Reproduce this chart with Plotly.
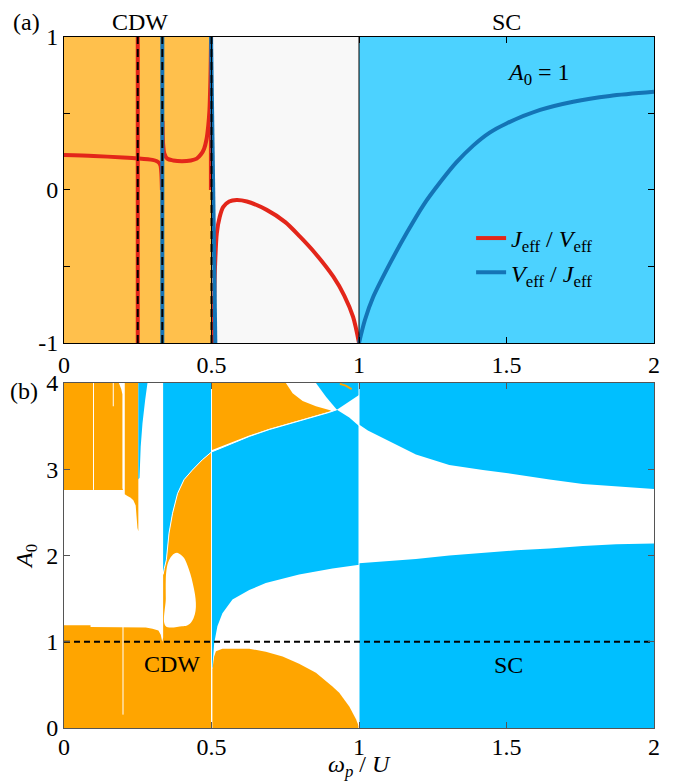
import plotly.graph_objects as go

FONT = "Liberation Serif, Times New Roman, serif"
BLACK = "black"
ORANGE = "#FFA500"
CYAN = "#00BFFF"

# ---------------- panel (a) data ----------------
shade_edges = [0.0, 0.5, 1.0, 2.0]
shade_colors = ["rgba(255,165,0,0.7)", "#f8f8f8", "rgba(0,191,255,0.7)"]

# J_eff / V_eff
red_a_x = [0.0, 0.1, 0.2, 0.25, 0.3, 0.315, 0.322, 0.327, 0.33, 0.332]
red_a_y = [0.228, 0.222, 0.213, 0.207, 0.197, 0.188, 0.178, 0.16, 0.11, 0.0]
red_pole1_x = [0.25, 0.25]
red_pole1_y = [-1.0, 1.0]
red_b_x = [0.334, 0.336, 0.34, 0.35, 0.37, 0.40, 0.43, 0.45, 0.465, 0.475,
           0.483, 0.489, 0.493, 0.496, 0.4975, 0.4985]
red_b_y = [0.45, 0.30, 0.24, 0.205, 0.193, 0.188, 0.193, 0.205, 0.235, 0.27,
           0.33, 0.42, 0.52, 0.70, 0.85, 1.0]
red_pole2_x = [0.498, 0.498]
red_pole2_y = [0.0, 0.6]
red_c_x = [0.505, 0.509, 0.512, 0.518, 0.528, 0.54, 0.56, 0.585, 0.62, 0.687,
           0.75, 0.8, 0.85, 0.913, 0.95, 0.98, 1.0]
red_c_y = [-1.0, -0.72, -0.5, -0.283, -0.174, -0.11, -0.075, -0.065, -0.075, -0.13,
           -0.21, -0.305, -0.41, -0.567, -0.69, -0.83, -1.0]

# V_eff / J_eff
blue_pole1_x = [0.3333, 0.3333]
blue_pole1_y = [-1.0, 1.0]
blue_pole2_x = [0.4985, 0.513]
blue_pole2_y = [1.0, -1.0]
blue_sc_x = [1.0, 1.02, 1.048, 1.105, 1.162, 1.218, 1.275, 1.33, 1.387, 1.443,
             1.5, 1.614, 1.726, 1.85, 2.0]
blue_sc_y = [-1.0, -0.85, -0.70, -0.48, -0.28, -0.10, 0.05, 0.18, 0.29, 0.375,
             0.435, 0.523, 0.577, 0.615, 0.642]

resonance_x = [0.25, 0.3333, 0.5]
phase_walls_a = [0.5, 1.0]

# ---------------- panel (b) data: phase regions ----------------
o1_x = [0.0, 0.186, 0.194, 0.198, 0.198, 0.2, 0.0]
o1_y = [4.0, 4.0, 3.93, 3.87, 2.78, 2.76, 2.76]

o2_x = [0.206, 0.252, 0.252, 0.249, 0.246, 0.243, 0.235, 0.226, 0.215, 0.206]
o2_y = [4.0, 4.0, 2.28, 2.32, 2.45, 2.58, 2.64, 2.67, 2.69, 2.71]

c1_x = [0.252, 0.283, 0.275, 0.266, 0.26, 0.256, 0.252]
c1_y = [4.0, 4.0, 3.8, 3.53, 3.26, 2.9, 2.88]

# orange / cyan boundary for 1/3 < w < 1/2
bnd_left_x = [0.5, 0.469, 0.435, 0.407, 0.385, 0.368, 0.356, 0.347, 0.34, 0.336]
bnd_left_y = [3.2, 3.11, 2.99, 2.88, 2.72, 2.49, 2.26, 1.95, 1.85, 1.78]

o3_x = [0.0, 0.5] + bnd_left_x + [0.336, 0.333, 0.328, 0.32, 0.30, 0.277, 0.09, 0.09, 0.0]
o3_y = [0.0, 0.0] + bnd_left_y + [1.05, 1.0, 1.08, 1.13, 1.15, 1.165, 1.17, 1.19, 1.19]

c2a_x = [0.336, 0.5] + bnd_left_x
c2a_y = [4.0, 4.0] + bnd_left_y

# orange / cyan boundary for 1/2 < w < 1
bnd_mid_x = [0.5, 0.628, 0.696, 0.80, 0.9, 0.925]
bnd_mid_y = [3.2, 3.38, 3.46, 3.56, 3.66, 3.69]

c2b_x = bnd_mid_x + [0.967, 1.0, 1.0, 0.995, 0.91, 0.797, 0.684, 0.628, 0.571, 0.537, 0.52, 0.509, 0.503, 0.5]
c2b_y = bnd_mid_y + [3.6, 3.5, 1.89, 1.89, 1.85, 1.78, 1.68, 1.6, 1.49, 1.33, 1.18, 0.98, 0.70, 0.70]

c4_x = [0.854, 1.0, 1.0, 0.925, 0.888]
c4_y = [4.0, 4.0, 3.86, 3.69, 3.84]

o4_x = [0.5, 0.5, 0.752, 0.775, 0.809, 0.854, 0.905, 0.9, 0.80, 0.696, 0.628, 0.5]
o4_y = [3.22, 4.0, 4.0, 3.88, 3.79, 3.73, 3.68, 3.67, 3.57, 3.47, 3.39, 3.22]

o5_x = [0.503, 0.503, 0.509, 0.515, 0.537, 0.628, 0.684, 0.741, 0.797, 0.854, 0.91,
        0.933, 0.967, 0.99, 0.999, 0.999]
o5_y = [0.0, 0.68, 0.83, 0.89, 0.92, 0.92, 0.885, 0.83, 0.745, 0.64, 0.48,
        0.41, 0.25, 0.10, 0.02, 0.0]

c3u_x = [1.0, 2.0, 2.0, 1.872, 1.759, 1.646, 1.533, 1.42, 1.306, 1.193, 1.08, 1.03, 1.0]
c3u_y = [4.0, 4.0, 2.77, 2.80, 2.83, 2.88, 2.94, 2.99, 3.05, 3.17, 3.36, 3.45, 3.52]

c3l_x = [1.0, 2.0, 2.0, 1.872, 1.759, 1.646, 1.533, 1.42, 1.306, 1.193, 1.08, 1.0]
c3l_y = [0.0, 0.0, 2.14, 2.13, 2.11, 2.08, 2.06, 2.03, 2.0, 1.96, 1.93, 1.91]

oval_x = [0.345, 0.345, 0.345, 0.347, 0.352, 0.36, 0.373, 0.385, 0.396, 0.407, 0.418,
          0.428, 0.437, 0.444, 0.447, 0.446, 0.44, 0.43, 0.415, 0.4, 0.345]
oval_y = [1.18, 1.5, 1.72, 1.82, 1.91, 1.97, 2.02, 2.03, 2.01, 1.97, 1.89,
          1.79, 1.67, 1.55, 1.45, 1.36, 1.28, 1.22, 1.185, 1.18, 1.18]

sliver_x = [0.935, 0.955, 0.975]
sliver_y = [3.99, 3.97, 3.93]

# thin white lines (vertical resonances)
wline_x = [0.1, 0.167, 0.2, 0.5, 1.0]
wline_lo = [2.76, 3.73, 0.155, 0.0, 0.0]
wline_hi = [4.0, 4.0, 1.18, 4.0, 4.0]

a0_cut = 1.0

# ---------------- figure ----------------
fig = go.Figure()

def sc(x, y, color, width, xa="x", ya="y", dash=None, name=None, legend=False,
       shape="linear", group=None):
    fig.add_trace(go.Scatter(x=x, y=y, mode="lines", xaxis=xa, yaxis=ya,
                             line=dict(color=color, width=width, dash=dash, shape=shape,
                                       smoothing=0.8 if shape == "spline" else None),
                             name=name, showlegend=legend, legendgroup=group,
                             hoverinfo="skip"))

def poly(x, y, color, shape="linear"):
    fig.add_trace(go.Scatter(x=x, y=y, mode="lines", fill="toself", fillcolor=color,
                             line=dict(width=0, shape=shape), xaxis="x2", yaxis="y2",
                             showlegend=False, hoverinfo="skip"))

# shaded phases in (a)
for i, col in enumerate(shade_colors):
    fig.add_vrect(x0=shade_edges[i], x1=shade_edges[i + 1], fillcolor=col,
                  line_width=0, layer="below", xref="x", yref="y")

RED = "#E3261A"
BLUE = "#1474B6"
JV = "<i>J</i><sub>eff</sub> / <i>V</i><sub>eff</sub>"
VJ = "<i>V</i><sub>eff</sub> / <i>J</i><sub>eff</sub>"

sc(red_a_x, red_a_y, RED, 4, name=JV, legend=True, group="r", shape="spline")
sc(red_pole1_x, red_pole1_y, RED, 4, group="r")
sc(red_b_x, red_b_y, RED, 4, group="r", shape="spline")
sc(red_pole2_x, red_pole2_y, RED, 4, group="r")
sc(red_c_x, red_c_y, RED, 4, group="r", shape="spline")
sc(blue_pole1_x, blue_pole1_y, BLUE, 4, name=VJ, legend=True, group="b")
sc(blue_pole2_x, blue_pole2_y, BLUE, 4, group="b")
sc(blue_sc_x, blue_sc_y, BLUE, 4, group="b", shape="spline")

for xw in phase_walls_a:
    sc([xw, xw], [-1, 1], BLACK, 1)
for xr in resonance_x:
    sc([xr, xr], [-1, 1], BLACK, 2, dash="8px,5px")

# panel (b)
for px_, py_ in [(o1_x, o1_y), (o2_x, o2_y), (o3_x, o3_y), (o4_x, o4_y), (o5_x, o5_y)]:
    poly(px_, py_, ORANGE)
for px_, py_ in [(c1_x, c1_y), (c2a_x, c2a_y), (c2b_x, c2b_y), (c4_x, c4_y),
                 (c3u_x, c3u_y), (c3l_x, c3l_y)]:
    poly(px_, py_, CYAN)
poly(oval_x, oval_y, "white", shape="spline")
sc(sliver_x, sliver_y, ORANGE, 2, xa="x2", ya="y2")
sc(bnd_left_x, bnd_left_y, "white", 1, xa="x2", ya="y2")
sc(bnd_mid_x, bnd_mid_y, "white", 1, xa="x2", ya="y2")
for xw, lo, hi in zip(wline_x, wline_lo, wline_hi):
    sc([xw, xw], [lo, hi], "white", 1, xa="x2", ya="y2")
sc([0, 2], [a0_cut, a0_cut], BLACK, 2, xa="x2", ya="y2", dash="6px,4px")

tickfont = dict(family=FONT, size=24, color=BLACK)
common = dict(showgrid=False, zeroline=False, ticks="inside", ticklen=6, tickwidth=1,
              showline=True, mirror="ticks", tickfont=tickfont)

fig.update_layout(
    width=680, height=781,
    margin=dict(l=56, r=34, t=29, b=61),
    plot_bgcolor="white", paper_bgcolor="white",
    font=dict(family=FONT, size=24, color=BLACK),
    xaxis=dict(domain=[0, 1], range=[0, 2], anchor="y",
               tickvals=[0, 0.5, 1, 1.5, 2], ticktext=["0", "0.5", "1", "1.5", "2"],
               linecolor=BLACK, tickcolor=BLACK, **common),
    yaxis=dict(domain=[0.5572, 1], range=[-1, 1], anchor="x",
               tickvals=[-1, 0, 1], ticktext=["-1", "0", "1"],
               minor=dict(tickvals=[-0.5, 0.5], ticks="inside", ticklen=6, tickcolor=BLACK),
               linecolor=BLACK, tickcolor=BLACK, **common),
    xaxis2=dict(domain=[0, 1], range=[0, 2], anchor="y2",
                tickvals=[0, 0.5, 1, 1.5, 2], ticktext=["0", "0.5", "1", "1.5", "2"],
                linecolor="#555", tickcolor="#555", ticklabelstandoff=-3, **common),
    yaxis2=dict(domain=[0, 0.4993], range=[0, 4], anchor="x2",
                tickvals=[0, 1, 2, 3, 4], ticktext=["0", "1", "2", "3", "4"],
                linecolor="#555", tickcolor="#555",
                title=dict(text="<i>A</i><sub>0</sub>", standoff=6,
                           font=dict(family=FONT, size=24, color=BLACK)),
                **common),
    legend=dict(x=0.69, y=0.741, xanchor="left", yanchor="top",
                bgcolor="rgba(0,0,0,0)", borderwidth=0, itemwidth=30,
                font=dict(family=FONT, size=24, color=BLACK), tracegroupgap=0),
    showlegend=True,
)

ann = [
    dict(text="(a)", xref="paper", yref="paper", x=-0.064, y=1.0217),
    dict(text="CDW", xref="x", yref="paper", x=0.257, y=1.0217),
    dict(text="SC", xref="x", yref="paper", x=1.5, y=1.0217),
    dict(text="<i>A</i><sub>0</sub> = 1", xref="x", yref="y", x=1.61, y=0.76),
    dict(text="(b)", xref="paper", yref="paper", x=-0.068, y=0.4884),
    dict(text="CDW", xref="x2", yref="y2", x=0.367, y=0.74),
    dict(text="SC", xref="x2", yref="y2", x=1.507, y=0.73),
    dict(text="<i>ω</i><sub><i>p</i></sub> / <i>U</i>", xref="x2", yref="paper",
         x=1.0, y=-0.0545),
]
for a in ann:
    fig.add_annotation(showarrow=False, xanchor="center", yanchor="middle",
                       font=dict(family=FONT, size=24, color=BLACK), **a)

fig.write_html("out.html")
